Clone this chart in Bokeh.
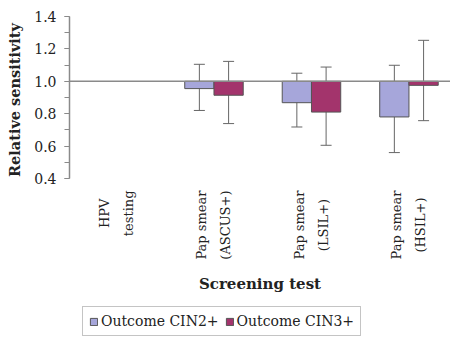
from bokeh.plotting import figure
from bokeh.layouts import column
from bokeh.models import (ColumnDataSource, Range1d, Span, Whisker, TeeHead,
                          Legend, LegendItem, SingleIntervalTicker, NumeralTickFormatter)
from bokeh.core.properties import value
from bokeh.embed import file_html
from bokeh.resources import INLINE

# ---- data ----
categories = ["HPV testing", "Pap smear (ASCUS+)", "Pap smear (LSIL+)", "Pap smear (HSIL+)"]
label_line1 = ["HPV", "Pap smear", "Pap smear", "Pap smear"]
label_line2 = ["testing", "(ASCUS+)", "(LSIL+)", "(HSIL+)"]
x_title = "Screening test"
y_title = "Relative  sensitivity"
# HPV testing is the reference (relative sensitivity = 1.0): no bars
bar_idx = [1, 2, 3]
cin2 = [0.955, 0.868, 0.78]
cin2_lo = [0.82, 0.718, 0.56]
cin2_hi = [1.105, 1.05, 1.099]
cin3 = [0.914, 0.81, 0.975]
cin3_lo = [0.739, 0.605, 0.757]
cin3_hi = [1.123, 1.088, 1.253]
reference = 1.0
series_names = ["Outcome CIN2+", "Outcome CIN3+"]

BLUE = "#a6a6da"
RED = "#a3346c"
EDGE = "#555555"
GREY = "#8a8a8a"
INK = "#222222"
SERIF = "DejaVu Serif"
LABEL_PX = 13


def text_len(s, px=LABEL_PX):
    """Rendered length of a label line, used to centre the two lines of a label."""
    try:
        from PIL import ImageFont
        f = ImageFont.truetype("DejaVuSerif.ttf", px)
        return f.getlength(s)
    except Exception:
        return 0.62 * px * len(s)


bw = 0.3
src2 = ColumnDataSource(dict(x=[i - bw / 2 for i in bar_idx], val=cin2, lo=cin2_lo, hi=cin2_hi,
                             top=[reference] * len(bar_idx)))
src3 = ColumnDataSource(dict(x=[i + bw / 2 for i in bar_idx], val=cin3, lo=cin3_lo, hi=cin3_hi,
                             top=[reference] * len(bar_idx)))

xr = Range1d(-0.482, 3.426)

# ---------- chart ----------
PH = 186
p = figure(width=450, height=PH, output_backend="svg", toolbar_location=None,
           x_range=xr, y_range=Range1d(0.4, 1.4001), x_axis_location=None,
           min_border_left=69, min_border_right=0, min_border_top=16, min_border_bottom=8)
p.outline_line_color = None
p.xgrid.visible = False
p.ygrid.visible = False

p.vbar(x="x", top="top", bottom="val", width=bw, source=src2,
       fill_color=BLUE, line_color=EDGE, line_width=1)
p.vbar(x="x", top="top", bottom="val", width=bw, source=src3,
       fill_color=RED, line_color=EDGE, line_width=1)

p.add_layout(Span(location=reference, dimension="width", line_color=GREY, line_width=1.5))

for s in (src2, src3):
    p.add_layout(Whisker(base="x", lower="lo", upper="hi", source=s, line_color="#666666", line_width=1,
                         upper_head=TeeHead(size=11, line_color="#666666", line_width=1),
                         lower_head=TeeHead(size=11, line_color="#666666", line_width=1)))

ya = p.yaxis[0]
ya.ticker = SingleIntervalTicker(interval=0.2, num_minor_ticks=2)
ya.formatter = NumeralTickFormatter(format="0.0")
ya.axis_line_color = GREY
ya.axis_line_width = 1.5
ya.major_tick_line_color = GREY
ya.minor_tick_line_color = GREY
ya.major_tick_out = 5
ya.major_tick_in = 0
ya.minor_tick_out = 5
ya.minor_tick_in = 0
ya.major_label_text_font = SERIF
ya.major_label_text_font_size = "14px"
ya.major_label_text_color = INK
ya.major_label_standoff = 8
ya.axis_label = y_title
ya.axis_label_text_font = SERIF
ya.axis_label_text_font_style = "bold"
ya.axis_label_text_font_size = "14.5px"
ya.axis_label_text_color = INK
ya.axis_label_standoff = 8

# ---------- category labels + x title strip (1 data unit = 1 px vertically) ----------
SH = 300 - PH
TOP_GAP = 4          # px from strip top to the top of the longest label line
LINE_HALF = 0.123    # half the distance between the two label lines, in category units
idx = list(range(len(categories)))
centre_y = [SH - TOP_GAP - max(text_len(a), text_len(b)) / 2 for a, b in zip(label_line1, label_line2)]

strip = figure(width=450, height=SH, output_backend="svg", toolbar_location=None,
               x_range=xr, y_range=Range1d(0, SH), x_axis_type=None, y_axis_type=None,
               min_border=0)
strip.outline_line_color = None
strip.xgrid.visible = False
strip.ygrid.visible = False
lab = ColumnDataSource(dict(x1=[i - LINE_HALF for i in idx], x2=[i + LINE_HALF for i in idx],
                            y=centre_y, t1=label_line1, t2=label_line2))
for xf, tf in (("x1", "t1"), ("x2", "t2")):
    strip.text(x=xf, y="y", text=tf, source=lab, angle=1.5708,
               text_align="center", text_baseline="middle",
               text_font=value(SERIF), text_font_size=f"{LABEL_PX}px", text_color=INK)
strip.text(x=[(xr.start + xr.end) / 2], y=[17], text=[x_title],
           text_align="center", text_baseline="middle",
           text_font=value(SERIF), text_font_size="15px", text_font_style="bold", text_color=INK)

# ---------- legend strip ----------
lg = figure(width=450, height=38, output_backend="svg", toolbar_location=None,
            x_axis_type=None, y_axis_type=None, x_range=Range1d(0, 1), y_range=Range1d(0, 1),
            min_border=0)
lg.outline_line_color = None
lg.xgrid.visible = False
lg.ygrid.visible = False
nan = float("nan")
key = dict(x=[nan], top=[nan], bottom=[nan])   # legend keys only, nothing drawn
k2 = lg.vbar(x="x", top="top", bottom="bottom", width=0.1, source=ColumnDataSource(key),
             fill_color=BLUE, line_color=EDGE, line_width=1)
k3 = lg.vbar(x="x", top="top", bottom="bottom", width=0.1, source=ColumnDataSource(key),
             fill_color=RED, line_color=EDGE, line_width=1)
legend = Legend(items=[LegendItem(label=series_names[0], renderers=[k2]),
                       LegendItem(label=series_names[1], renderers=[k3])],
                orientation="horizontal", location=(13, 2),
                label_text_font=SERIF, label_text_font_size="14px", label_text_color=INK,
                glyph_width=9, glyph_height=9, label_standoff=3, spacing=6, padding=6,
                border_line_color=GREY, border_line_width=1, background_fill_alpha=1,
                label_height=14, margin=0)
lg.add_layout(legend, "center")

layout = column(p, strip, lg, spacing=0)
open("out.html", "w").write(file_html(layout, INLINE))
